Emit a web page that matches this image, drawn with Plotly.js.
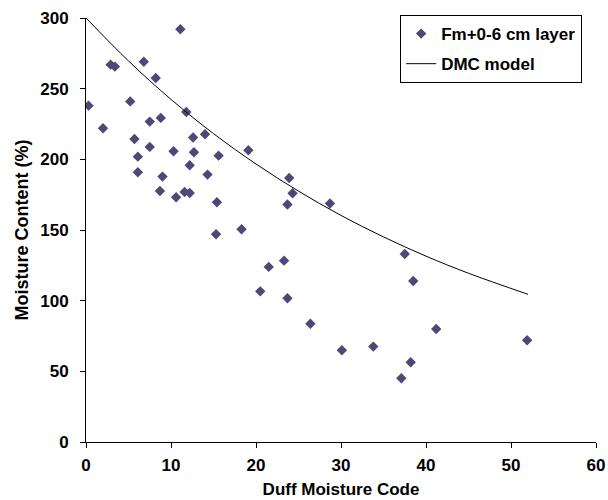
<!DOCTYPE html>
<html>
<head>
<meta charset="utf-8">
<script src="https://cdn.plot.ly/plotly-3.0.1.min.js"></script>
<style>html,body{margin:0;padding:0;background:#fff;}#chart{width:608px;height:500px;}</style>
</head>
<body>
<div id="chart"></div>
<script>
const dmcObs = [0.3,2.0,2.9,3.4,5.2,6.8,8.2,11.1,11.8,7.5,8.8,5.7,7.5,12.6,14.0,19.1,10.3,12.7,6.1,15.6,6.1,9.0,12.2,14.3,8.7,10.6,11.6,12.2,15.4,15.3,18.3,20.5,23.9,24.3,23.7,28.7,23.3,21.5,23.7,26.4,30.1,33.8,37.5,38.5,41.2,38.2,37.1,51.9];
const moistObs = [238,222,267,265.6,241,269,257.6,292,233.5,226.7,229.3,214.4,208.8,215.4,217.7,206.4,205.7,205,201.9,202.6,190.9,187.8,195.8,189.2,177.6,173.2,176.9,176.2,169.6,147,150.5,106.6,186.8,176,168,168.7,128.3,123.9,101.7,83.7,64.9,67.5,133,113.9,80,56.4,45.1,72];
const dmcModel = [0,5,10,15,20,25,30,35,40,45,52];
const moistModel = [300,269.6,242.4,218.2,196.7,177.5,160.3,145.1,131.5,119.4,104.5];
const seriesNames = ["Fm+0-6 cm layer","DMC model"];
const xTicks = [0,10,20,30,40,50,60];
const yTicks = [0,50,100,150,200,250,300];

const fam = "Liberation Sans, Arial, sans-serif";
const traces = [
  {x:dmcObs, y:moistObs, mode:"markers", type:"scatter", name:"<b>"+seriesNames[0]+"</b>",
   legendgroup:"a", marker:{symbol:"diamond", size:8, color:"#4e4876"}},
  {x:dmcModel, y:moistModel, mode:"lines", type:"scatter", name:"<b>"+seriesNames[1]+"</b>",
   legendgroup:"b", line:{color:"#000", width:1, shape:"spline"}}
];
const layout = {
  width:608, height:500,
  margin:{l:86, r:12, t:18, b:58},
  paper_bgcolor:"#fff", plot_bgcolor:"#fff",
  font:{family:fam, size:17, color:"#000"},
  showlegend:true,
  legend:{x:0.616, y:1.007, xanchor:"left", yanchor:"top", bordercolor:"#000", borderwidth:1,
          bgcolor:"#fff", traceorder:"grouped", tracegroupgap:5,
          font:{family:fam, size:17, color:"#000"}},
  xaxis:{range:[0,60], tickvals:xTicks, showgrid:false, zeroline:false,
         showline:true, linecolor:"#000", linewidth:1, ticks:"outside", ticklen:5, tickcolor:"#000",
         ticklabelstandoff:3,
         tickfont:{family:fam, size:17, color:"#000", weight:"bold"},
         title:{text:"<b>Duff Moisture Code</b>", font:{family:fam, size:17, color:"#000"}, standoff:8}},
  yaxis:{range:[0,300], tickvals:yTicks, showgrid:false, zeroline:false,
         showline:true, linecolor:"#000", linewidth:1, ticks:"outside", ticklen:5, tickcolor:"#000",
         ticklabelstandoff:8,
         tickfont:{family:fam, size:17, color:"#000", weight:"bold"},
         title:{text:"<b>Moisture Content (%)</b>", font:{family:fam, size:18, color:"#000"}, standoff:6}}
};
Plotly.newPlot("chart", traces, layout, {displayModeBar:false, staticPlot:true});
</script>
</body>
</html>
